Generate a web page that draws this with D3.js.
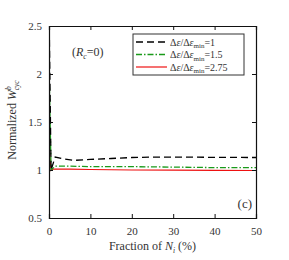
<!DOCTYPE html>
<html>
<head>
<meta charset="utf-8">
<script src="https://cdn.jsdelivr.net/npm/d3@7"></script>
<style>
body { margin: 0; background: #fff; }
svg text { font-family: "Liberation Serif", serif !important; fill: #333; }
</style>
</head>
<body>
<script>
var width = 289,
    height = 260;

// data
var blackX = [0, 0.5, 1.5, 3, 6, 10, 15, 20, 25, 30, 40, 50],
    blackY = [2.7, 1.0, 1.135, 1.12, 1.10, 1.11, 1.12, 1.13, 1.135, 1.135, 1.132, 1.13];
var greenX = [0, 0.5, 1.5, 5, 10, 20, 30, 40, 50],
    greenY = [2.1, 1.0, 1.04, 1.04, 1.035, 1.035, 1.03, 1.025, 1.025];
var redX = [0, 0.5, 1, 5, 10, 20, 30, 40, 50],
    redY = [1.25, 0.995, 1.01, 1.01, 1.005, 1.0, 0.998, 0.996, 0.995];
var xTicks = [0, 10, 20, 30, 40, 50],
    yTicks = [0.5, 1, 1.5, 2, 2.5];
var legendLabels = ["=1", "=1.5", "=2.75"];

var margin = {top: 26, right: 33, bottom: 42, left: 49};
var w = width - margin.left - margin.right,
    h = height - margin.top - margin.bottom;

var x = d3.scaleLinear().domain([0, 50]).range([0, w]);
var y = d3.scaleLinear().domain([0.5, 2.5]).range([h, 0]);

var svg = d3.select("body").append("svg")
    .attr("width", width)
    .attr("height", height);

svg.append("defs").append("clipPath")
    .attr("id", "clip")
  .append("rect")
    .attr("width", w)
    .attr("height", h);

var g = svg.append("g")
    .attr("transform", "translate(" + margin.left + "," + margin.top + ")");

var line = d3.line()
    .x(function(d) { return x(d[0]); })
    .y(function(d) { return y(d[1]); });

var series = [
  {xs: blackX, ys: blackY, color: "#000", dash: "7,4", width: 1.3},
  {xs: greenX, ys: greenY, color: "#1a9a1a", dash: "6,2,1.5,2", width: 1.3},
  {xs: redX, ys: redY, color: "#ee1111", dash: null, width: 1.2}
];

var plot = g.append("g").attr("clip-path", "url(#clip)");
series.slice().reverse().forEach(function(s) {
  plot.append("path")
      .datum(s.xs.map(function(v, i) { return [v, s.ys[i]]; }))
      .attr("fill", "none")
      .attr("stroke", s.color)
      .attr("stroke-width", s.width)
      .attr("stroke-dasharray", s.dash)
      .attr("d", line);
});

// axes, ticks inward and mirrored
g.append("g")
    .attr("transform", "translate(0," + h + ")")
    .call(d3.axisBottom(x).tickValues(xTicks).tickSize(-4).tickPadding(9));
g.append("g")
    .call(d3.axisTop(x).tickValues(xTicks).tickSize(-4).tickFormat(""));
g.append("g")
    .call(d3.axisLeft(y).tickValues(yTicks).tickSize(-4).tickPadding(7).tickFormat(d3.format("")));
g.append("g")
    .attr("transform", "translate(" + w + ",0)")
    .call(d3.axisRight(y).tickValues(yTicks).tickSize(-4).tickFormat(""));

g.selectAll(".domain").attr("stroke", "#111").attr("stroke-width", 1.2);
g.selectAll(".tick line").attr("stroke", "#111");
g.selectAll("g").attr("font-family", null);
g.selectAll(".tick text").style("font-size", "11px");

// legend
var lg = g.append("g").attr("transform", "translate(" + (133 - margin.left) + "," + (34 - margin.top) + ")");
lg.append("rect")
    .attr("width", 111)
    .attr("height", 41)
    .attr("fill", "#fff")
    .attr("stroke", "#333")
    .attr("stroke-width", 1);
series.forEach(function(s, i) {
  var yy = 8 + i * 12.5;
  lg.append("line")
      .attr("x1", 3).attr("x2", 34)
      .attr("y1", yy).attr("y2", yy)
      .attr("stroke", s.color)
      .attr("stroke-width", s.width)
      .attr("stroke-dasharray", s.dash);
  var t = lg.append("text")
      .attr("x", 37).attr("y", yy + 3.5)
      .style("font-size", "10px");
  t.append("tspan").text("Δ");
  t.append("tspan").style("font-style", "italic").text("ε");
  t.append("tspan").text("/Δ");
  t.append("tspan").style("font-style", "italic").text("ε");
  t.append("tspan").attr("dy", 2.5).style("font-size", "7px").text("min");
  t.append("tspan").attr("dy", -2.5).text(legendLabels[i]);
});

// annotations
var rc = g.append("text")
    .attr("x", 72 - margin.left)
    .attr("y", 56 - margin.top)
    .style("font-size", "12px");
rc.append("tspan").text("(");
rc.append("tspan").style("font-style", "italic").text("R");
rc.append("tspan").attr("dy", 2.5).style("font-size", "7.5px").style("font-style", "italic").text("c");
rc.append("tspan").attr("dy", -2.5).text("=0)");

g.append("text")
    .attr("x", w - 4)
    .attr("y", 208 - margin.top)
    .attr("text-anchor", "end")
    .style("font-size", "13px")
    .text("(c)");

// axis titles
var xl = svg.append("text")
    .attr("x", margin.left + w / 2)
    .attr("y", 250)
    .attr("text-anchor", "middle")
    .style("font-size", "12px");
xl.append("tspan").text("Fraction of ");
xl.append("tspan").style("font-style", "italic").text("N");
xl.append("tspan").attr("dy", 2.5).style("font-size", "7.5px").style("font-style", "italic").text("i");
xl.append("tspan").attr("dy", -2.5).text(" (%)");

var yl = svg.append("text")
    .attr("transform", "translate(16," + (margin.top + h / 2 - 2) + ") rotate(-90)")
    .attr("text-anchor", "middle")
    .style("font-size", "12px");
yl.append("tspan").text("Normalized ");
yl.append("tspan").style("font-style", "italic").text("W");
yl.append("tspan").attr("dy", -5).style("font-size", "7.5px").style("font-style", "italic").text("b");
yl.append("tspan").attr("dx", -4).attr("dy", 8).style("font-size", "7.5px").style("font-style", "italic").text("cyc");
</script>
</body>
</html>
